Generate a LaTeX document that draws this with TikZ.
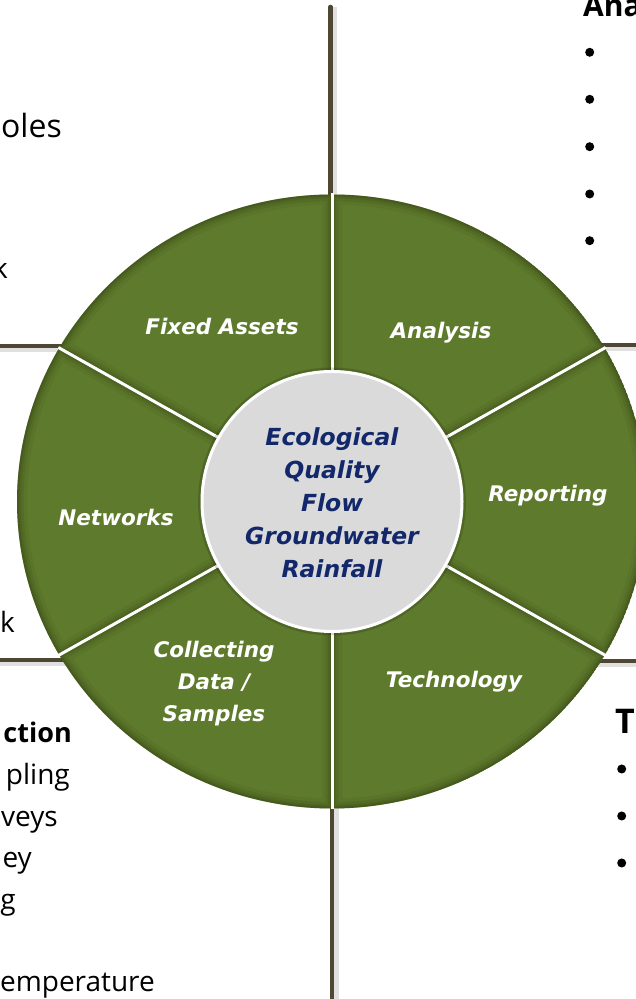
\documentclass[tikz,border=0pt]{standalone}
\usepackage{fontspec}
\setmainfont{Open Sans}
\newfontfamily\labelfont{DejaVu Sans}
\definecolor{sec}{HTML}{5E7A2C}
\definecolor{secdark}{HTML}{26320C}
\definecolor{quad}{HTML}{4D4733}
\definecolor{navy}{HTML}{12286B}
\definecolor{cgray}{HTML}{DADADA}
\definecolor{cdark}{HTML}{A6A6A6}
\pgfdeclareradialshading{hubshade}{\pgfpoint{0bp}{0bp}}{color(0bp)=(cgray); color(44bp)=(cgray); color(50bp)=(cdark); color(100bp)=(cdark)}
\begin{document}
\begin{tikzpicture}[x=1pt,y=1pt,
  seclabel/.style={text=white, font=\labelfont\fontsize{21.5}{32}\selectfont\bfseries\itshape, align=center, inner sep=0},
  hubtext/.style={text=navy, font=\labelfont\fontsize{23.5}{33}\selectfont\bfseries\itshape, align=center, inner sep=0},
  body/.style={font=\fontsize{28}{34}\selectfont, anchor=base east, inner sep=0},
  head/.style={font=\fontsize{27}{34}\selectfont\bfseries, inner sep=0},
  bullet/.style={circle, fill=black, inner sep=0, minimum size=9pt},
  quadline/.style={draw=quad, line width=4.5pt},
  quadshadow/.style={draw=black!12, line width=5pt},
  sepline/.style={draw=white, line width=3pt},
]
\useasboundingbox (0,0) rectangle (636,999);
\clip (0,0) rectangle (636,999);
\coordinate (C) at (332,497.5);

% quadrant divider lines
\coordinate (vt1) at (330.5,992);
\coordinate (vt2) at (330.5,800);
\coordinate (vb1) at (332,200);
\coordinate (vb2) at (332,-5);
\coordinate (hl1) at (-5,653);
\coordinate (hl2) at (80,653);
\coordinate (hr1) at (590,654);
\coordinate (hr2) at (641,654);
\coordinate (ll1) at (-5,339);
\coordinate (ll2) at (80,339);
\coordinate (lr1) at (590,338);
\coordinate (lr2) at (641,338);
\draw[quadshadow] ([shift={(0,-4)}]hl1) -- ([shift={(0,-4)}]hl2);
\draw[quadshadow] ([shift={(0,-4)}]hr1) -- ([shift={(0,-4)}]hr2);
\draw[quadshadow] ([shift={(0,-4)}]ll1) -- ([shift={(0,-4)}]ll2);
\draw[quadshadow] ([shift={(0,-4)}]lr1) -- ([shift={(0,-4)}]lr2);
\draw[quadshadow] ([shift={(4,0)}]vt1) -- ([shift={(4,0)}]vt2);
\draw[quadshadow] ([shift={(4,0)}]vb1) -- ([shift={(4,0)}]vb2);
\draw[quadline, line cap=round] (vt1) -- (vt2);
\draw[quadline] (vb1) -- (vb2);
\draw[quadline] (hl1) -- (hl2);
\draw[quadline] (hr1) -- (hr2);
\draw[quadline] (ll1) -- (ll2);
\draw[quadline] (lr1) -- (lr2);

% sectors
\foreach \a/\b in {90/150, 30/90, -30/30, -90/-30, 210/270, 150/210} {
  \begin{scope}
    \clip (C) -- +(\a:315 and 307) arc[start angle=\a, end angle=\b, x radius=315, y radius=307] -- cycle;
    \fill[sec] (C) -- +(\a:315 and 307) arc[start angle=\a, end angle=\b, x radius=315, y radius=307] -- cycle;
    \foreach \w/\o in {20/0.07, 13/0.10, 8/0.13, 4/0.2} {
      \draw[secdark, line width=\w pt, opacity=\o] (C) -- +(\a:315 and 307) arc[start angle=\a, end angle=\b, x radius=315, y radius=307] -- cycle;
    }
  \end{scope}
}
\foreach \a in {30,90,150,210,270,330} {
  \draw[sepline] (C) -- +(\a:316 and 308);
}

% hub
\fill[black, opacity=0.15] (C) circle (134);
\node[circle, minimum size=260pt, inner sep=0, draw=white, line width=3pt, shade, shading=hubshade] (hub) at (C) {};
\node[hubtext] (hubtxt) at (332,496) {Ecological\\Quality\\Flow\\Groundwater\\Rainfall};

% sector labels
\node[seclabel] (fixed) at (222,673) {Fixed Assets};
\node[seclabel] (analysis) at (441,666) {Analysis};
\node[seclabel] (reporting) at (548,503) {Reporting};
\node[seclabel] (technology) at (454,317) {Technology};
\node[seclabel] (networks) at (116,482) {Networks};
\node[seclabel] (collecting) at (214,315) {Collecting\\Data /\\Samples};

% clipped side texts
\node[body, font=\fontsize{32}{34}\selectfont] (t1) at (62,861) {oles};
\node[body] (t2) at (8,720) {k};
\node[body] (t3) at (15,366) {k};
\node[head, anchor=base east] (t4) at (72,256) {ction};
\node[body] (t5) at (70,214) {pling};
\node[body] (t6) at (58,172) {veys};
\node[body] (t7) at (32,131) {ey};
\node[body] (t8) at (16,89) {g};
\node[body] (t9) at (155,7) {emperature};
\node[head, font=\fontsize{30}{34}\selectfont\bfseries, anchor=base west] (t10) at (583,982) {Ana};
\node[head, font=\fontsize{34}{36}\selectfont\bfseries, anchor=base west] (t11) at (615,265) {T};

% bullets
\node[bullet] (a1) at (589.7,946.7) {};
\node[bullet] (a2) at (589.7,899.7) {};
\node[bullet] (a3) at (589.7,852.3) {};
\node[bullet] (a4) at (589.7,805) {};
\node[bullet] (a5) at (589.7,758.3) {};
\node[bullet] (c1) at (621.7,230) {};
\node[bullet] (c2) at (621.7,183) {};
\node[bullet] (c3) at (621.7,136) {};
\end{tikzpicture}
\end{document}
